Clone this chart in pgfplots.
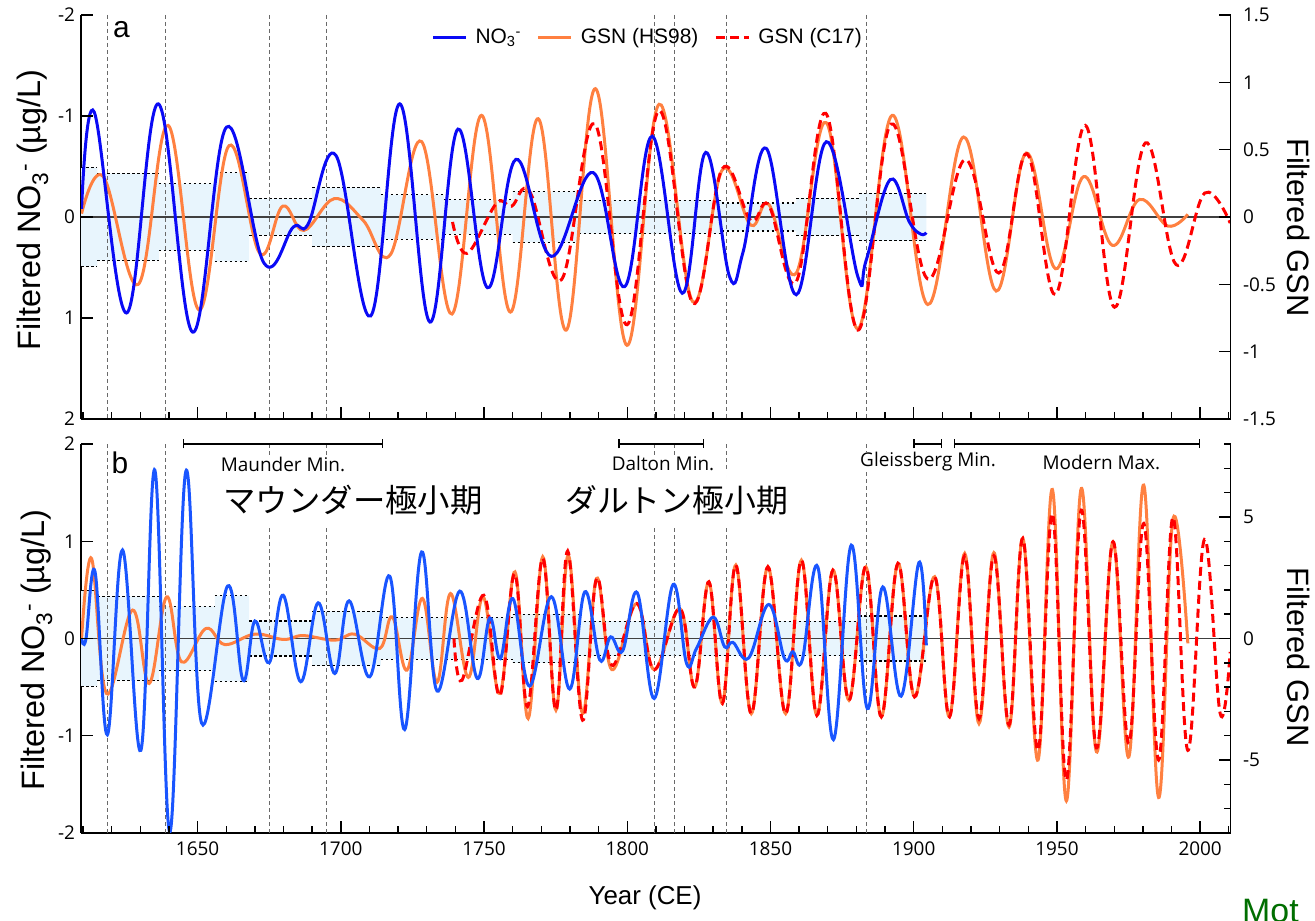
\documentclass[border=0pt]{standalone}
\usepackage{fontspec}
\setmainfont{Liberation Sans}
\newfontfamily\tickfont{Open Sans}
\newfontfamily\jp{Noto Sans CJK JP}
\usepackage{pgfplots}
\usepackage{pgfplotstable}
\pgfplotsset{compat=1.18}
\usetikzlibrary{arrows.meta}

\definecolor{nob}{RGB}{10,10,245}
\definecolor{nobb}{RGB}{25,85,255}
\definecolor{hs}{RGB}{255,128,64}
\definecolor{cs}{RGB}{255,0,0}
\definecolor{band}{RGB}{232,245,253}
\definecolor{vline}{RGB}{105,105,105}
\definecolor{mot}{RGB}{0,110,0}

\pgfplotstableread{
x h
1609.3 0.49
1615 0.43
1636.5 0.33
1656 0.44
1668 0.18
1690 0.29
1714 0.22
1736 0.17
1760 0.25
1783 0.165
1833 0.14
1859 0.185
1881 0.235
1904.4 0.235
}\bandA

\pgfplotstableread{
x h
1609.3 0.49
1615 0.43
1636.5 0.33
1656 0.44
1668 0.18
1690 0.28
1714 0.215
1760 0.25
1783 0.178
1881 0.23
1904.4 0.23
}\bandB

\tikzset{vl/.style={vline, line width=0.9bp, dash pattern=on 4bp off 3bp},
         tkk/.style={draw=black, line width=1.4bp}}

\pgfplotsset{
  common/.style={
    anchor=south west, width=1149.5bp, scale only axis,
    xmin=1609.3, xmax=2010.6,
    tick align=inside, major tick length=12bp, minor tick length=7bp,
    tick style={black, line width=1.3bp},
    axis line style={black, line width=1.8bp},
    tick label style={font=\tickfont\fontsize{19}{19}\selectfont},
  },
  xcommon/.style={
    axis x line*=bottom, axis y line*=left,
    xtick={1650,1700,1750,1800,1850,1900,1950,2000},
    minor xtick={1610,1620,...,2010},
    yticklabel style={xshift=-2.5bp},
    xticklabel style={yshift=-5bp},
  },
  rcommon/.style={
    axis x line=none, axis y line*=right, clip=false,
    yticklabel style={xshift=9bp},
    every axis y label/.style={at={(axis description cs:1.059,#1)}, anchor=center, rotate=-90, font=\fontsize{31}{31}\selectfont},
  },
  dotb/.style={jump mark left, black, line width=1.3bp, dash pattern=on 2.5bp off 2.5bp},
  nl/.style={line width=3bp, smooth, tension=0.65},
}

\begin{document}
\begin{tikzpicture}
\useasboundingbox (0bp,0bp) rectangle (1315bp,921bp);

%================ PANEL A (left axis: NO3, reversed) ================
\begin{axis}[common, xcommon, at={(81bp,502bp)}, height=404bp,
  ymin=-2, ymax=2, y dir=reverse,
  ytick={-2,-1,0,1,2}, yticklabels={-2,-1,0,1,2},
  xticklabels={},
  every axis y label/.style={at={(axis description cs:-0.0418,0.517)}, anchor=center, rotate=90, font=\fontsize{32.5}{32.5}\selectfont},
  ylabel={Filtered NO\textsubscript{3}\textsuperscript{-} (µg/L)},
]
\addplot[ybar interval, fill=band, draw=none] table[x=x,y=h]{\bandA};
\addplot[ybar interval, fill=band, draw=none] table[x=x,y expr=-\thisrow{h}]{\bandA};
\addplot[dotb] table[x=x,y=h]{\bandA};
\addplot[dotb] table[x=x,y expr=-\thisrow{h}]{\bandA};
\foreach \v in {1618.6,1638.9,1675,1695.1,1809.4,1816.4,1834.5,1883.6}{
  \edef\tmp{\noexpand\draw[vl] (axis cs:\v,-2) -- (axis cs:\v,2);}\tmp
}
\draw[black!75, line width=1.2bp] (axis cs:1609.3,0) -- (axis cs:2010.6,0);
% GSN HS98 (right-axis units, mapped to left axis)
\addplot[hs, nl, y filter/.expression={-4*y/3}] coordinates {
(1609.5,0.025) (1617.1,0.30) (1629.3,-0.50) (1639.7,0.68) (1650.5,-0.69) (1661.0,0.53)
(1671.7,-0.27) (1679.7,0.08) (1687.1,-0.10) (1697.7,0.136) (1707.8,-0.025) (1717.3,-0.28)
(1728.2,0.56) (1738.8,-0.72) (1749.1,0.755) (1759.2,-0.706) (1768.9,0.73) (1778.7,-0.84)
(1788.9,0.953) (1799.9,-0.953) (1811.1,0.837) (1822.9,-0.63) (1833.2,0.35) (1843.1,-0.06)
(1849.4,0.094) (1859,-0.416) (1869.5,0.70) (1880.5,-0.83) (1892.5,0.755) (1904.9,-0.65)
(1917.4,0.594) (1928.8,-0.55) (1939.3,0.475) (1949.5,-0.384) (1959.3,0.30) (1969.3,-0.21)
(1978.8,0.13) (1988.7,-0.067) (1995.7,0.02)
};
% GSN C17
\addplot[cs, nl, dash pattern=on 9bp off 5bp, y filter/.expression={-4*y/3}] coordinates {
(1739,-0.037) (1744.1,-0.27) (1754.3,0.10) (1759.6,0.08) (1766,0.186) (1777,-0.466)
(1788.6,0.693) (1799.9,-0.80) (1811.1,0.79) (1822.9,-0.64) (1833.2,0.36) (1843.1,-0.025)
(1849.4,0.087) (1859,-0.48) (1869.3,0.77) (1880.5,-0.84) (1892.1,0.69) (1904.9,-0.46)
(1918,0.426) (1929.7,-0.416) (1939.5,0.47) (1949.5,-0.575) (1959.9,0.68) (1970.1,-0.67)
(1980.9,0.55) (1991.6,-0.354) (2001.6,0.178) (2010.5,-0.045)
};
% NO3
\addplot[nob, nl] coordinates {
(1609.5,-0.08) (1613.9,-1.04) (1625.2,0.95) (1636.3,-1.12) (1648.3,1.14) (1660.1,-0.89)
(1673.2,0.457) (1683.4,0.10) (1688.6,0.07) (1698.3,-0.61) (1710.4,0.98) (1720.6,-1.12)
(1731.1,1.04) (1740.9,-0.87) (1751.2,0.70) (1761.1,-0.57) (1773.5,0.39) (1788.1,-0.44)
(1799.1,0.69) (1808.7,-0.80) (1819.2,0.755) (1827.4,-0.64) (1835.7,0.59) (1840.4,0.35)
(1848.5,-0.68) (1859.0,0.77) (1869.5,-0.745) (1880.5,0.59) (1883.4,0.43) (1891.8,-0.37)
(1898.5,0.05) (1902.5,0.17) (1904.4,0.155)
};
\end{axis}

% PANEL A right axis
\begin{axis}[common, rcommon=0.474, at={(81bp,502bp)}, height=404bp,
  ymin=-1.5, ymax=1.5,
  ytick={-1.5,-1,-0.5,0,0.5,1,1.5}, yticklabels={-1.5,-1,-0.5,0,0.5,1,1.5},
  ylabel={Filtered GSN},
  legend columns=3,
  legend style={draw=none, fill=none, at={(axis description cs:0.493,0.9455)}, anchor=center,
    font=\fontsize{21}{21}\selectfont,
    /tikz/every even column/.append style={column sep=14bp},
    /tikz/every odd column/.append style={column sep=6bp},
    inner sep=0pt},
  legend image code/.code={\draw[#1] (0bp,0bp) -- (33bp,0bp);},
]
\addplot[draw=none, forget plot] coordinates {(1700,0)};
\addlegendimage{nob, line width=3bp}
\addlegendentry{NO\textsubscript{3}\textsuperscript{-}}
\addlegendimage{hs, line width=3bp}
\addlegendentry{GSN (HS98)}
\addlegendimage{cs, line width=3bp, dash pattern=on 9bp off 5bp}
\addlegendentry{GSN (C17)}
\end{axis}

%================ PANEL B ================
\begin{axis}[common, xcommon, at={(81bp,88bp)}, height=389bp,
  ymin=-2, ymax=2,
  ytick={-2,-1,0,1,2}, yticklabels={-2,-1,0,1,2},
  xticklabels={1650,1700,1750,1800,1850,1900,1950,2000},
  every axis y label/.style={at={(axis description cs:-0.0383,0.470)}, anchor=center, rotate=90, font=\fontsize{32.5}{32.5}\selectfont},
  ylabel={Filtered NO\textsubscript{3}\textsuperscript{-} (µg/L)},
]
\addplot[ybar interval, fill=band, draw=none] table[x=x,y=h]{\bandB};
\addplot[ybar interval, fill=band, draw=none] table[x=x,y expr=-\thisrow{h}]{\bandB};
\addplot[dotb] table[x=x,y=h]{\bandB};
\addplot[dotb] table[x=x,y expr=-\thisrow{h}]{\bandB};
\foreach \v in {1618.6,1638.9,1675,1695.1,1809.4,1816.4,1834.5,1883.6}{
  \edef\tmp{\noexpand\draw[vl] (axis cs:\v,-2) -- (axis cs:\v,2);}\tmp
}
\draw[black!75, line width=1.2bp] (axis cs:1609.3,0) -- (axis cs:2010.6,0);
% GSN HS98
\addplot[hs, nl, y filter/.expression={y/4}] coordinates {
(1609.5,0) (1613,3.29) (1618.2,-2.26) (1627.3,1.17) (1633.1,-1.85) (1639.2,1.71)
(1644.4,-0.96) (1652.9,0.41) (1659.5,-0.25) (1670,0.18) (1680,-0.04) (1686.8,0.12)
(1697.9,-0.07) (1704.8,0.18) (1713.6,-0.41) (1718,0.89) (1723.1,-1.3) (1728.5,1.65)
(1733.6,-1.8) (1738.3,1.85) (1744.5,-1.6) (1749.7,1.71) (1755.5,-2.26) (1760.8,2.74)
(1765.4,-3.29) (1770.5,3.36) (1775.1,-2.95) (1779.4,3.43) (1784.4,-3.09) (1789.3,2.47)
(1794.6,-1.28) (1803.3,1.44) (1809.4,-1.28) (1818.4,1.23) (1823.6,-1.99) (1828.5,2.33)
(1833.2,-2.67) (1837.9,3.02) (1843.3,-3.09) (1849.1,2.95) (1855.3,-3.09) (1860.8,3.22)
(1866.2,-3.16) (1871.8,2.81) (1877.4,-2.54) (1883.3,2.95) (1888.7,-3.22) (1894.5,3.09)
(1900.3,-2.4) (1907.3,2.54) (1912.5,-3.22) (1917.8,3.5) (1922.8,-3.5) (1928,3.53)
(1933.3,-3.64) (1938.1,4.12) (1943.4,-5.0) (1948.4,6.13) (1953.3,-6.68) (1958.5,6.17)
(1963.8,-4.66) (1969.6,3.98) (1975.1,-4.87) (1980.3,6.31) (1985.5,-6.54) (1990.5,4.9)
(1995.7,-0.2)
};
% GSN C17
\addplot[cs, nl, dash pattern=on 9bp off 5bp, y filter/.expression={y/4}] coordinates {
(1739.5,0) (1742.3,-1.72) (1749.9,1.78) (1755.5,-2.35) (1760.7,2.67) (1765.2,-2.8)
(1770.5,3.3) (1775.1,-2.95) (1779.2,3.6) (1784.4,-3.36) (1789.3,2.47) (1794.6,-1.1)
(1803.3,1.44) (1809.4,-1.28) (1818.4,1.23) (1823.6,-1.99) (1828.5,2.33) (1833.2,-2.67)
(1837.9,3.02) (1843.3,-3.09) (1849.1,2.95) (1855.3,-3.09) (1860.8,3.22) (1866.2,-3.16)
(1871.8,2.81) (1877.4,-2.54) (1883.3,2.95) (1888.7,-3.22) (1894.5,3.09) (1900.3,-2.4)
(1907.3,2.54) (1912.5,-3.22) (1917.8,3.4) (1922.8,-3.3) (1928,3.4) (1933.3,-3.55)
(1938.1,4.12) (1943.4,-4.6) (1948.4,5.14) (1953.3,-5.83) (1958.5,5.28) (1963.8,-4.5)
(1969.6,3.98) (1975.1,-4.32) (1980.3,4.73) (1985.5,-5.0) (1990.5,4.98) (1995.7,-4.6)
(2001.5,4.07) (2007,-3.09) (2010.5,-0.55)
};
% NO3
\addplot[nobb, nl] coordinates {
(1609.5,0) (1611,-0.01) (1614.2,0.686) (1618.5,-0.99) (1623.8,0.91) (1630.2,-1.15)
(1635.1,1.73) (1640.3,-1.99) (1645.9,1.72) (1651.4,-0.87) (1660.5,0.54) (1665.9,-0.43)
(1670,0.18) (1675,-0.25) (1679.9,0.445) (1686,-0.445) (1692.1,0.367) (1697.9,-0.36)
(1702.9,0.387) (1710.1,-0.394) (1717.1,0.64) (1722.3,-0.936) (1728.2,0.89) (1733.6,-0.54)
(1741.5,0.487) (1747.6,-0.41) (1752,0.21) (1755.7,-0.206) (1760.1,0.41) (1765.9,-0.49)
(1773.5,0.43) (1779.9,-0.52) (1785.2,0.48) (1790.4,-0.22) (1794.2,0.017) (1798.4,-0.127)
(1803.5,0.47) (1809.4,-0.617) (1816,0.555) (1820.7,-0.257) (1824.2,-0.1) (1830,0.22)
(1834,-0.086) (1836.9,-0.04) (1842.4,-0.2) (1849.4,0.35) (1854.9,-0.206) (1857.8,-0.137)
(1861.1,-0.22) (1866.5,0.737) (1872,-1.04) (1878.2,0.96) (1883.8,-0.72) (1889.2,0.53)
(1895.6,-0.593) (1901.8,0.78) (1904.4,-0.07)
};
\end{axis}

% PANEL B right axis + annotations
\begin{axis}[common, rcommon=0.452, at={(81bp,88bp)}, height=389bp,
  ymin=-8, ymax=8,
  ytick={-5,0,5}, yticklabels={-5,0,5},
  minor ytick={-8,-7,...,8},
  ylabel={Filtered GSN},
]
\addplot[draw=none, forget plot] coordinates {(1700,0)};
\draw[line width=1.3bp, {Bar[width=9bp]}-{Bar[width=9bp]}] (axis cs:1644.8,8) -- (axis cs:1714.8,8);
\draw[line width=1.3bp, {Bar[width=9bp]}-{Bar[width=9bp]}] (axis cs:1796.9,8) -- (axis cs:1826.9,8);
\draw[line width=1.3bp, {Bar[width=9bp]}-{Bar[width=9bp]}] (axis cs:1899.9,8) -- (axis cs:1910,8);
\draw[line width=1.3bp, {Bar[width=9bp]}-{Bar[width=9bp]}] (axis cs:1914.1,8) -- (axis cs:2000,8);
\node[fill=white, inner sep=1bp, font=\tickfont\fontsize{19}{19}\selectfont] at (axis cs:1679.8,7.14) {Maunder Min.};
\node[fill=white, inner sep=1bp, font=\tickfont\fontsize{19}{19}\selectfont] at (axis cs:1812.5,7.22) {Dalton Min.};
\node[fill=white, inner sep=1bp, font=\tickfont\fontsize{19}{19}\selectfont] at (axis cs:1905,7.26) {Gleissberg Min.};
\node[fill=white, inner sep=1bp, font=\tickfont\fontsize{19}{19}\selectfont] at (axis cs:1965.5,7.26) {Modern Max.};
\node[fill=white, inner sep=1bp, minimum height=56bp, font=\jp\fontsize{32.5}{32.5}\selectfont] at (axis cs:1704.3,5.70) {マウンダー極小期};
\node[fill=white, inner sep=1bp, minimum height=56bp, font=\jp\fontsize{32}{32}\selectfont] at (axis cs:1817.3,5.70) {ダルトン極小期};
\end{axis}

% ---- tick marks, drawn on the picture (axis box: x 81..1230.5 bp; A: y 502..906; B: y 88..477)
\foreach \v [evaluate=\v as \xx using 81+(\v-1609.3)*2.86444] in {1650,1700,...,2000}{
  \draw[tkk] (\xx bp,502bp) -- (\xx bp,514bp);
  \draw[tkk] (\xx bp,88bp) -- (\xx bp,100bp);
}
\foreach \v [evaluate=\v as \xx using 81+(\v-1609.3)*2.86444] in {1610,1620,...,2010}{
  \draw[tkk] (\xx bp,502bp) -- (\xx bp,509bp);
  \draw[tkk] (\xx bp,88bp) -- (\xx bp,95bp);
}
\foreach \yy in {502,603,704,805,906}{\draw[tkk] (81bp,\yy bp) -- (93bp,\yy bp);}
\foreach \yy in {88,185.25,282.5,379.75,477}{\draw[tkk] (81bp,\yy bp) -- (93bp,\yy bp);}
\foreach \yy in {502,569.33,636.67,704,771.33,838.67,906}{\draw[tkk] (1230.5bp,\yy bp) -- (1218.5bp,\yy bp);}
\foreach \yy in {160.94,282.5,404.06}{\draw[tkk] (1230.5bp,\yy bp) -- (1218.5bp,\yy bp);}
\foreach \k [evaluate=\k as \yy using 88+\k*24.3125] in {0,1,...,16}{\draw[tkk] (1230.5bp,\yy bp) -- (1223.5bp,\yy bp);}

% panel letters and axis title
\node[font=\fontsize{30}{30}\selectfont] at (121.5bp,891bp) {a};
\node[font=\fontsize{30}{30}\selectfont] at (120bp,458bp) {b};
\node[font=\fontsize{26}{26}\selectfont] at (645bp,23bp) {Year (CE)};
\node[anchor=base west, inner sep=0pt, text=mot, font=\fontsize{34}{34}\selectfont] at (1242bp,-1bp) {Mot};
\end{tikzpicture}
\end{document}
